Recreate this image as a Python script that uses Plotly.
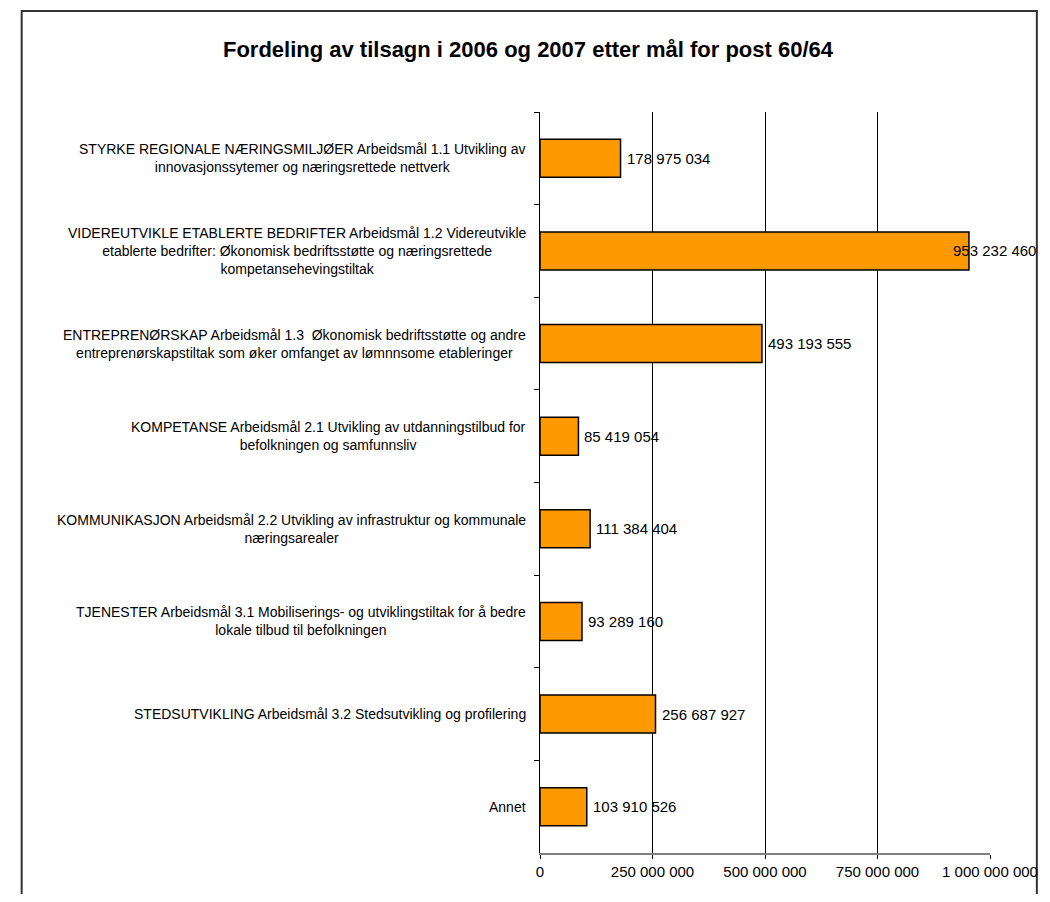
import plotly.graph_objects as go

title_text = "Fordeling av tilsagn i 2006 og 2007 etter mål for post 60/64"

categories = [
    "STYRKE REGIONALE NÆRINGSMILJØER Arbeidsmål 1.1 Utvikling av<br>innovasjonssytemer og næringsrettede nettverk",
    "VIDEREUTVIKLE ETABLERTE BEDRIFTER Arbeidsmål 1.2 Videreutvikle<br>etablerte bedrifter: Økonomisk bedriftsstøtte og næringsrettede<br>kompetansehevingstiltak",
    "ENTREPRENØRSKAP Arbeidsmål 1.3  Økonomisk bedriftsstøtte og andre<br>entreprenørskapstiltak som øker omfanget av lømnnsome etableringer",
    "KOMPETANSE Arbeidsmål 2.1 Utvikling av utdanningstilbud for<br>befolkningen og samfunnsliv",
    "KOMMUNIKASJON Arbeidsmål 2.2 Utvikling av infrastruktur og kommunale<br>næringsarealer",
    "TJENESTER Arbeidsmål 3.1 Mobiliserings- og utviklingstiltak for å bedre<br>lokale tilbud til befolkningen",
    "STEDSUTVIKLING Arbeidsmål 3.2 Stedsutvikling og profilering",
    "Annet",
]

values = [178975034, 953232460, 493193555, 85419054, 111384404, 93289160, 256687927, 103910526]

x_tickvals = [0, 250000000, 500000000, 750000000, 1000000000]
x_ticktext = ["0", "250 000 000", "500 000 000", "750 000 000", "1 000 000 000"]


def fmt(v):
    return f"{v:,}".replace(",", " ")


# page has an 8px body margin; figure sized to fit the 1050x902 window
W, H = 1042, 886
ML, MR, MT, MB = 532, 49, 104, 41
plot_w = W - ML - MR
plot_h = H - MT - MB
xmax = 1000000000
FONT = "Liberation Sans, Arial, sans-serif"

fig = go.Figure()
fig.add_trace(go.Bar(
    x=values, y=categories, orientation="h",
    marker=dict(color="#FF9900", line=dict(color="#000000", width=1.5)),
    hoverinfo="skip",
))

annotations = []
for c in categories:
    annotations.append(dict(
        x=0, xref="paper", y=c, yref="y", text=c, showarrow=False,
        xanchor="right", yanchor="middle", align="center", xshift=-12,
        font=dict(family=FONT, size=14, color="#000000"),
    ))

label_w = 84
right_limit = W - 2
for c, v in zip(categories, values):
    px = v / xmax * plot_w
    if ML + px + 4 + label_w > right_limit:
        ann = dict(xanchor="right", xshift=right_limit - (ML + px))
    else:
        ann = dict(xanchor="left", xshift=4)
    annotations.append(dict(
        x=v, xref="x", y=c, yref="y", text=fmt(v), showarrow=False,
        yanchor="middle", font=dict(family=FONT, size=15, color="#000000"), **ann,
    ))

# outer chart frame
shapes = [dict(
    type="rect", xref="paper", yref="paper",
    x0=(1 - ML) / plot_w, x1=(1041 - ML) / plot_w,
    y0=-0.2, y1=(H - MB - 3) / plot_h,
    line=dict(color="#333333", width=2), fillcolor="rgba(0,0,0,0)", layer="below",
)]

fig.update_layout(
    width=W, height=H,
    margin=dict(l=ML, r=MR, t=MT, b=MB),
    paper_bgcolor="white", plot_bgcolor="white",
    showlegend=False,
    bargap=0.59,
    title=dict(
        text="<b>" + title_text + "</b>", xref="container", yref="container",
        x=520 / W, y=1 - 41 / H, xanchor="center", yanchor="middle",
        font=dict(family=FONT, size=22, color="#000000"),
    ),
    xaxis=dict(
        range=[0, xmax], tickvals=x_tickvals, ticktext=x_ticktext,
        showgrid=True, gridcolor="#000000", gridwidth=1,
        showline=True, linecolor="#808080", linewidth=2,
        ticks="outside", ticklen=4, tickcolor="#000000",
        tickfont=dict(family=FONT, size=15, color="#000000"),
        zeroline=False, fixedrange=True,
    ),
    yaxis=dict(
        type="category", autorange="reversed",
        showticklabels=False, tickson="boundaries",
        ticks="outside", ticklen=5, tickcolor="#000000",
        showline=True, linecolor="#000000", linewidth=1,
        showgrid=False, zeroline=False, fixedrange=True,
    ),
    annotations=annotations,
    shapes=shapes,
)

fig.write_html("out.html")
